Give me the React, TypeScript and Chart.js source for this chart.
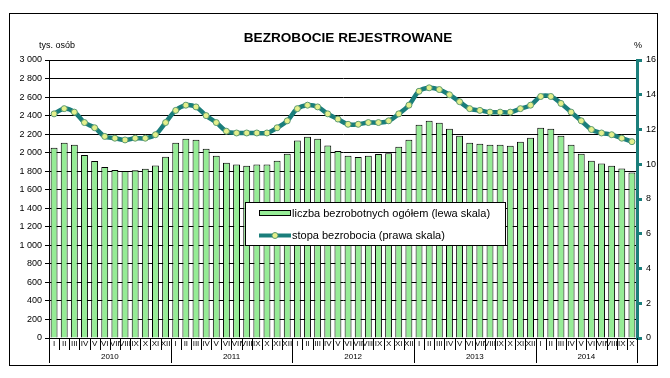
import React, { useEffect, useRef } from "react";
import { Chart, registerables } from "chart.js";

Chart.register(...registerables);

const FONT = "'Liberation Sans', Arial, Helvetica, sans-serif";

const title = "BEZROBOCIE REJESTROWANE";
const leftUnit = "tys. osób";
const rightUnit = "%";
const barLabel = "liczba bezrobotnych ogółem (lewa skala)";
const lineLabel = "stopa bezrobocia (prawa skala)";

const years = ["2010", "2011", "2012", "2013", "2014"];
const monthNumerals = ["I", "II", "III", "IV", "V", "VI", "VII", "VIII", "IX", "X", "XI", "XII"];

// liczba bezrobotnych (tys. osób)
const unemployed2010 = [2054, 2108, 2086, 1975, 1911, 1846, 1814, 1802, 1811, 1826, 1862, 1956];
const unemployed2011 = [2108, 2151, 2140, 2043, 1968, 1892, 1871, 1860, 1871, 1871, 1914, 1988];
const unemployed2012 = [2130, 2173, 2151, 2076, 2018, 1968, 1954, 1968, 1986, 1993, 2065, 2140];
const unemployed2013 = [2301, 2344, 2323, 2258, 2183, 2108, 2097, 2086, 2086, 2075, 2118, 2162];
const unemployed2014 = [2270, 2258, 2183, 2086, 1989, 1914, 1882, 1860, 1828, 1785];

// stopa bezrobocia (%)
const rate2010 = [12.9, 13.2, 13.0, 12.4, 12.1, 11.6, 11.5, 11.4, 11.5, 11.5, 11.7, 12.4];
const rate2011 = [13.1, 13.4, 13.3, 12.8, 12.4, 11.9, 11.8, 11.8, 11.8, 11.8, 12.1, 12.5];
const rate2012 = [13.2, 13.4, 13.3, 12.9, 12.6, 12.3, 12.3, 12.4, 12.4, 12.5, 12.9, 13.4];
const rate2013 = [14.2, 14.4, 14.3, 14.0, 13.6, 13.2, 13.1, 13.0, 13.0, 13.0, 13.2, 13.4];
const rate2014 = [13.9, 13.9, 13.5, 13.0, 12.5, 12.0, 11.8, 11.7, 11.5, 11.3];

const leftTickLabels = ["0", "200", "400", "600", "800", "1 000", "1 200", "1 400", "1 600", "1 800", "2 000", "2 200", "2 400", "2 600", "2 800", "3 000"];
const rightTickLabels = ["0", "2", "4", "6", "8", "10", "12", "14", "16"];

const unemployed = [...unemployed2010, ...unemployed2011, ...unemployed2012, ...unemployed2013, ...unemployed2014];
const rate = [...rate2010, ...rate2011, ...rate2012, ...rate2013, ...rate2014];
const categories = unemployed.map((_, i) => `${monthNumerals[i % 12]} ${years[Math.floor(i / 12)]}`);

const BAR_FILL = "#96ec96";
const TEAL = "#1a7e7b";
const POINT_FILL = "#e4f08c";

const decorPlugin = {
  id: "decor",
  afterDraw(chart: any) {
    const ctx = chart.ctx;
    const xs = chart.scales.x;
    const area = chart.chartArea;
    const n = unemployed.length;
    ctx.save();

    // frame
    ctx.strokeStyle = "#000";
    ctx.lineWidth = 1;
    ctx.strokeRect(9.5, 13.5, 648, 352);

    // title and units
    ctx.fillStyle = "#000";
    ctx.textBaseline = "middle";
    ctx.textAlign = "center";
    ctx.font = `bold 13.6px ${FONT}`;
    ctx.fillText(title, 348, 38);
    ctx.font = `9px ${FONT}`;
    ctx.textAlign = "left";
    ctx.fillText(leftUnit, 39, 46);
    ctx.fillText(rightUnit, 634, 46);

    // x axis: month separators, month labels, year lines and labels
    const step = xs.getPixelForValue(1) - xs.getPixelForValue(0);
    ctx.strokeStyle = "#000";
    ctx.lineWidth = 1;
    for (let i = 0; i <= n; i++) {
      const bx = Math.round((i < n ? xs.getPixelForValue(i) : xs.getPixelForValue(n - 1) + step) - step / 2) + 0.5;
      const isYear = i % 12 === 0 || i === n;
      ctx.beginPath();
      ctx.moveTo(bx, area.bottom);
      ctx.lineTo(bx, isYear ? 363 : 350);
      ctx.stroke();
    }
    ctx.font = `8px ${FONT}`;
    ctx.textAlign = "center";
    for (let i = 0; i < n; i++) {
      ctx.fillText(monthNumerals[i % 12], xs.getPixelForValue(i), 344);
    }
    years.forEach((y, yi) => {
      const first = yi * 12;
      const last = Math.min(n - 1, yi * 12 + 11);
      const cx = (xs.getPixelForValue(first) + xs.getPixelForValue(last)) / 2;
      ctx.fillText(y, cx, 357);
    });

    // legend
    const lx = 245.5, ly = 202.5, lw = 260, lh = 43;
    ctx.fillStyle = "#fff";
    ctx.fillRect(lx, ly, lw, lh);
    ctx.strokeStyle = "#000";
    ctx.strokeRect(lx, ly, lw, lh);
    ctx.fillStyle = BAR_FILL;
    ctx.fillRect(259.5, 210.5, 31, 5);
    ctx.strokeRect(259.5, 210.5, 31, 5);
    ctx.strokeStyle = TEAL;
    ctx.lineWidth = 4;
    ctx.beginPath();
    ctx.moveTo(259, 235.5);
    ctx.lineTo(291, 235.5);
    ctx.stroke();
    ctx.fillStyle = POINT_FILL;
    ctx.lineWidth = 1;
    ctx.strokeStyle = "#5d9a70";
    ctx.beginPath();
    ctx.arc(275, 235.5, 3, 0, Math.PI * 2);
    ctx.fill();
    ctx.stroke();
    ctx.fillStyle = "#000";
    ctx.font = `11px ${FONT}`;
    ctx.textAlign = "left";
    ctx.fillText(barLabel, 292, 213.5);
    ctx.fillText(lineLabel, 292, 236);

    ctx.restore();
  },
};

export default function App() {
  const ref = useRef<HTMLCanvasElement | null>(null);

  useEffect(() => {
    if (!ref.current) return;
    const chart = new Chart(ref.current, {
      type: "bar",
      data: {
        labels: categories,
        datasets: [
          {
            type: "line",
            label: lineLabel,
            data: rate,
            yAxisID: "y2",
            order: 0,
            borderColor: TEAL,
            borderWidth: 4.5,
            tension: 0.4,
            pointRadius: 3,
            pointBackgroundColor: POINT_FILL,
            pointBorderColor: "#5d9a70",
            pointBorderWidth: 1,
          } as any,
          {
            type: "bar",
            label: barLabel,
            data: unemployed,
            yAxisID: "y",
            order: 1,
            backgroundColor: BAR_FILL,
            borderColor: "#000",
            borderWidth: 1,
            barPercentage: 0.68,
            categoryPercentage: 1,
          },
        ],
      },
      options: {
        responsive: false,
        animation: false,
        devicePixelRatio: 1,
        layout: { padding: { top: 60, bottom: 40, left: 0, right: 0 } },
        plugins: { legend: { display: false }, tooltip: { enabled: false }, title: { display: false } },
        scales: {
          x: { type: "category", display: false, offset: true, grid: { offset: true } },
          y: {
            position: "left",
            min: 0,
            max: 3000,
            ticks: {
              stepSize: 200,
              color: "#000",
              padding: 3,
              font: { size: 9, family: FONT },
              callback: (v: any) => leftTickLabels[Math.round(Number(v) / 200)],
            },
            grid: { color: "#000", lineWidth: 1, tickLength: 4 },
            border: { color: "#000", width: 1 },
            afterFit: (s: any) => { s.width = 49; },
          },
          y2: {
            position: "right",
            min: 0,
            max: 16,
            ticks: {
              stepSize: 2,
              color: "#000",
              padding: 4,
              font: { size: 9, family: FONT },
              callback: (v: any) => rightTickLabels[Math.round(Number(v) / 2)],
            },
            grid: { drawOnChartArea: false, color: TEAL, lineWidth: 3, tickLength: 5 },
            border: { color: TEAL, width: 3 },
            afterFit: (s: any) => { s.width = 33; },
          },
        },
      },
      plugins: [decorPlugin],
    });
    return () => chart.destroy();
  }, []);

  return (
    <div style={{ position: "absolute", left: 0, top: 0, width: 670, height: 378, background: "#fff" }}>
      <canvas ref={ref} width={670} height={378} style={{ display: "block", width: 670, height: 378 }} />
    </div>
  );
}
